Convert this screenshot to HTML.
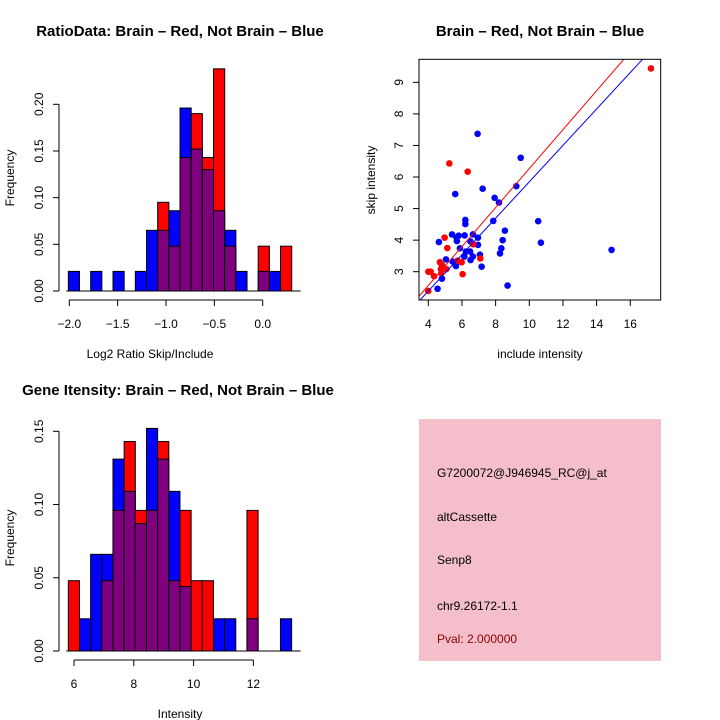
<!DOCTYPE html>
<html><head><meta charset="utf-8"><style>
html,body{margin:0;padding:0;background:#fff;}
svg{display:block;font-family:"Liberation Sans",sans-serif;}
</style></head><body>
<svg id="c" width="720" height="720" viewBox="0 0 720 720" xmlns="http://www.w3.org/2000/svg">
<text x="180" y="36" font-size="15" font-weight="bold" text-anchor="middle">RatioData: Brain – Red, Not Brain – Blue</text>
<text x="150" y="358" font-size="12" text-anchor="middle">Log2 Ratio Skip/Include</text>
<text transform="translate(14,178) rotate(-90)" font-size="12" text-anchor="middle">Frequency</text>
<text x="540" y="36" font-size="15" font-weight="bold" text-anchor="middle">Brain – Red, Not Brain – Blue</text>
<text x="540" y="358" font-size="12" text-anchor="middle">include intensity</text>
<text transform="translate(375,180) rotate(-90)" font-size="12" text-anchor="middle">skip intensity</text>
<text x="178" y="395" font-size="15" font-weight="bold" text-anchor="middle">Gene Itensity: Brain – Red, Not Brain – Blue</text>
<text x="180" y="718" font-size="12" text-anchor="middle">Intensity</text>
<text transform="translate(14,538) rotate(-90)" font-size="12" text-anchor="middle">Frequency</text>
<g>
<rect x="419" y="419" width="242" height="242" fill="#f4bfcb"/>
<text x="437" y="477" font-size="12">G7200072@J946945_RC@j_at</text>
<text x="437" y="521" font-size="12">altCassette</text>
<text x="437" y="564" font-size="12">Senp8</text>
<text x="437" y="610" font-size="12">chr9.26172-1.1</text>
<text x="437" y="643" font-size="12" fill="#8b0000">Pval: 2.000000</text>
</g>
</svg>
<script>
// ---- Ratio histogram data ----
const ratioBinStart = -2.01;
const ratioBinWidth = 0.1155;
const ratioBlue = [0.021,0,0.021,0,0.021,0,0.021,0.065,0.065,0.086,0.196,0.152,0.130,0.086,0.065,0.021,0,0.021,0.021,0];
const ratioRed  = [0,0,0,0,0,0,0,0,0.095,0.048,0.143,0.190,0.143,0.238,0.048,0,0,0.048,0,0.048];
const ratioXTicks = [-2.0,-1.5,-1.0,-0.5,0.0];
const ratioXTickLabels = ["\u22122.0","\u22121.5","\u22121.0","\u22120.5","0.0"];
const ratioYTicks = [0,0.05,0.10,0.15,0.20];
const ratioYTickLabels = ["0.00","0.05","0.10","0.15","0.20"];
// ---- Intensity histogram data ----
const intBinStart = 5.81;
const intBinWidth = 0.3734;
const intBlue = [0,0.022,0.066,0.066,0.131,0.109,0.087,0.152,0.131,0.109,0.044,0,0,0.022,0.022,0,0.022,0,0,0.022];
const intRed  = [0.048,0,0,0.048,0.096,0.143,0.096,0.096,0.143,0.048,0.096,0.048,0.048,0,0,0,0.096,0,0,0];
const intXTicks = [6,8,10,12];
const intXTickLabels = ["6","8","10","12"];
const intYTicks = [0,0.05,0.10,0.15];
const intYTickLabels = ["0.00","0.05","0.10","0.15"];
// ---- Scatter data ----
const redX = [17.23,5.25,6.34,4.97,5.13,4.69,4.81,4.75,5.07,4.0,4.14,4.34,4.77,4.0,6.04,5.98,5.74,7.09,6.67];
const redY = [9.44,6.43,6.17,4.08,3.75,3.30,3.21,3.08,3.08,3.0,3.0,2.86,2.95,2.39,2.92,3.30,3.35,3.42,3.87];
const blueX = [6.93,9.49,5.60,7.23,9.23,7.94,8.20,7.86,6.20,6.20,10.53,8.55,4.63,5.41,5.68,5.80,6.16,6.65,6.95,6.50,6.95,5.70,5.88,8.42,8.34,8.26,10.69,14.89,6.24,6.48,6.14,6.65,7.07,6.51,5.05,5.45,5.64,7.17,4.83,4.81,4.55,8.71,5.66];
const blueY = [7.37,6.61,5.46,5.63,5.71,5.34,5.19,4.61,4.64,4.51,4.60,4.30,3.94,4.18,4.08,4.14,4.15,4.18,4.08,3.96,3.85,3.97,3.74,4.00,3.74,3.58,3.92,3.69,3.64,3.64,3.48,3.48,3.54,3.37,3.39,3.32,3.18,3.16,3.11,2.78,2.46,2.56,3.26];
const redLine = [0.0955,0.617];
const blueLine = [0.078,0.577];
const scXTicks = [4,6,8,10,12,14,16];
const scXTickLabels = ["4","6","8","10","12","14","16"];
const scYTicks = [3,4,5,6,7,8,9];
const scYTickLabels = ["3","4","5","6","7","8","9"];

const NS="http://www.w3.org/2000/svg";
const svg=document.getElementById('c');
function mk(tag,attrs,parent){const e=document.createElementNS(NS,tag);for(const k in attrs)e.setAttribute(k,attrs[k]);(parent||svg).appendChild(e);return e;}

function hist(prefix,binStart,binW,blue,red,xTicks,xLabels,yTicks,yLabels,xs,ys,axY,tickLabelY){
  const g=mk('g',{});
  
  
  for(let i=0;i<blue.length;i++){
    const x0=xs(binStart+i*binW), x1=xs(binStart+(i+1)*binW);
    const b=blue[i], r=red[i];
    const hi=Math.max(b,r), lo=Math.min(b,r);
    if(hi>0){
      const el=mk('rect',{x:x0,y:ys(hi),width:x1-x0,height:ys(0)-ys(hi),fill:b>=r?'#0000ff':'#ff0000',stroke:'#000','stroke-width':1},g);
      
      
    }
    if(lo>0){
      const el=mk('rect',{x:x0,y:ys(lo),width:x1-x0,height:ys(0)-ys(lo),fill:'#7f007f',stroke:'#000','stroke-width':1},g);
      
      
    }
  }
  const base=mk('line',{x1:xs(binStart)-2,x2:xs(binStart+blue.length*binW)+9,y1:ys(0),y2:ys(0),stroke:'#000','stroke-width':1},g);
  
  
  const xa=mk('g',{},g);
  
  
  mk('line',{x1:xs(xTicks[0]),x2:xs(xTicks[xTicks.length-1]),y1:axY,y2:axY,stroke:'#000'},xa);
  xTicks.forEach((t,i)=>{
    mk('line',{x1:xs(t),x2:xs(t),y1:axY,y2:axY+6,stroke:'#000'},xa);
    const tx=mk('text',{x:xs(t),y:tickLabelY,'font-size':12,'text-anchor':'middle'},xa);
    tx.textContent=xLabels[i];
    
    
  });
  const ya=mk('g',{},g);
  
  
  mk('line',{x1:59,x2:59,y1:ys(yTicks[0]),y2:ys(yTicks[yTicks.length-1]),stroke:'#000'},ya);
  yTicks.forEach((t,i)=>{
    mk('line',{x1:53,x2:59,y1:ys(t),y2:ys(t),stroke:'#000'},ya);
    const tx=mk('text',{transform:`translate(43,${ys(t)}) rotate(-90)`,'font-size':12,'text-anchor':'middle'},ya);
    tx.textContent=yLabels[i];
    
    
  });
}
const rxs=v=>69.3+(v+2)*96.7;
const rys=v=>291-v*(186.7/0.2);
hist('ratio',ratioBinStart,ratioBinWidth,ratioBlue,ratioRed,ratioXTicks,ratioXTickLabels,ratioYTicks,ratioYTickLabels,rxs,rys,300,328);
const ixs=v=>74+(v-6)*29.9;
const iys=v=>651-v*(219.7/0.15);
hist('intensity',intBinStart,intBinWidth,intBlue,intRed,intXTicks,intXTickLabels,intYTicks,intYTickLabels,ixs,iys,660,688);

const sxs=v=>428.3+(v-4)*16.83;
const sys=v=>271.7-(v-3)*31.56;
const sg=mk('g',{});


const defs=mk('clipPath',{id:'clipS'},sg);
mk('rect',{x:419,y:59.3,width:241.7,height:240.7},defs);
function drawLine(coef,color,name){
  const xa=3,xb=20;
  const l=mk('line',{x1:sxs(xa),y1:sys(coef[0]+coef[1]*xa),x2:sxs(xb),y2:sys(coef[0]+coef[1]*xb),stroke:color,'stroke-width':1,'clip-path':'url(#clipS)'},sg);
  
  
}
blueX.forEach((x,i)=>{
  const c=mk('circle',{cx:sxs(x),cy:sys(blueY[i]),r:3.3,fill:'#0000ff'},sg);
  
  
});
redX.forEach((x,i)=>{
  const c=mk('circle',{cx:sxs(x),cy:sys(redY[i]),r:3.3,fill:'#ff0000'},sg);
  
  
});
drawLine(redLine,'#ff0000','fit-line-red');
drawLine(blueLine,'#0000ff','fit-line-blue');
const box=mk('rect',{x:419,y:59.3,width:241.7,height:240.7,fill:'none',stroke:'#000'},sg);


scXTicks.forEach((t,i)=>{
  mk('line',{x1:sxs(t),x2:sxs(t),y1:300,y2:306,stroke:'#000'},sg);
  const tx=mk('text',{x:sxs(t),y:328,'font-size':12,'text-anchor':'middle'},sg);
  tx.textContent=scXTickLabels[i];
  
  
});
scYTicks.forEach((t,i)=>{
  mk('line',{x1:413,x2:419,y1:sys(t),y2:sys(t),stroke:'#000'},sg);
  const tx=mk('text',{transform:`translate(403,${sys(t)}) rotate(-90)`,'font-size':12,'text-anchor':'middle'},sg);
  tx.textContent=scYTickLabels[i];
  
  
});
</script>
</body></html>
